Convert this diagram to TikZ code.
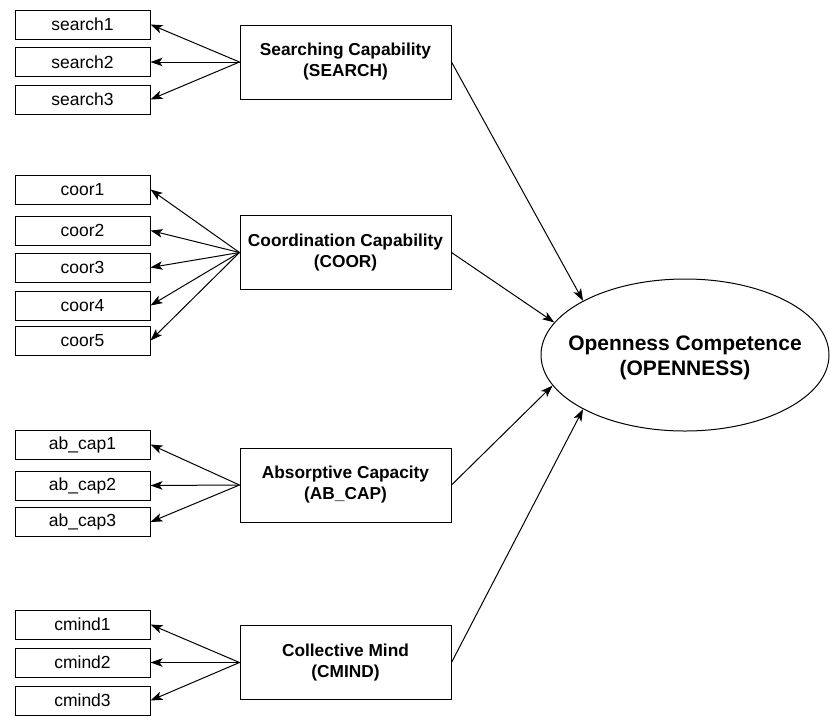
\documentclass[tikz,border=0pt]{standalone}
\usepackage{fontspec}
\setmainfont{Liberation Sans}
\usetikzlibrary{shapes.geometric,arrows.meta}
\begin{document}
\begin{tikzpicture}[x=1pt,y=-1pt,
  item/.style={draw, line width=1pt, minimum width=135pt, minimum height=29pt,
    inner sep=0pt, font=\fontsize{17.5}{21}\selectfont},
  factor/.style={draw, line width=1pt, minimum width=211pt, minimum height=74pt,
    inner sep=0pt, align=center, font=\bfseries\fontsize{17.3}{21}\selectfont},
  outcome/.style={draw, ellipse, line width=1pt, minimum width=288pt,
    minimum height=152pt, inner sep=0pt},
  outtext/.style={align=center, inner sep=0pt, font=\bfseries\fontsize{21}{25}\selectfont},
  link/.style={line width=1pt, -{Stealth[length=12pt,width=8.5pt,inset=3pt]}}]
\useasboundingbox (0,0) rectangle (830,716);

% indicator boxes
\node[item] (s1) at (82.5,24.5) {search1};
\node[item] (s2) at (82.5,62)   {search2};
\node[item] (s3) at (82.5,99.5) {search3};

\node[item] (c1) at (82.5,189.5) {coor1};
\node[item] (c2) at (82.5,230.5) {coor2};
\node[item] (c3) at (82.5,267.5) {coor3};
\node[item] (c4) at (82.5,305.5) {coor4};
\node[item] (c5) at (82.5,340.5) {coor5};

\node[item] (a1) at (82.5,444.5) {ab\_cap1};
\node[item] (a2) at (82.5,485.5) {ab\_cap2};
\node[item] (a3) at (82.5,522)   {ab\_cap3};

\node[item] (m1) at (82.5,624.5) {cmind1};
\node[item] (m2) at (82.5,662.5) {cmind2};
\node[item] (m3) at (82.5,700.5) {cmind3};

% latent factors
\node[factor] (s) at (345.5,62)    {Searching Capability\\(SEARCH)};
\node[factor] (c) at (345.5,252.5) {Coordination Capability\\(COOR)};
\node[factor] (a) at (345.5,485)   {Absorptive Capacity\\(AB\_CAP)};
\node[factor] (m) at (345.5,662.5) {Collective Mind\\(CMIND)};

% outcome construct
\node[outcome] (open) at (685,355) {};
\node[outtext, yshift=-3pt] (opentext) at (open.center) {Openness Competence\\(OPENNESS)};

% loadings
\foreach \i in {1,2,3} \draw[link] (s.west) -- (s\i.east);
\foreach \i in {1,...,5} \draw[link] (c.west) -- (c\i.east);
\foreach \i in {1,2,3} \draw[link] (a.west) -- (a\i.east);
\foreach \i in {1,2,3} \draw[link] (m.west) -- (m\i.east);

% structural paths
\draw[link] (s.east) -- (open.152.8);
\draw[link] (c.east) -- (open.166.4);
\draw[link] (a.east) -- (open.193.6);
\draw[link] (m.east) -- (open.208);
\end{tikzpicture}
\end{document}
